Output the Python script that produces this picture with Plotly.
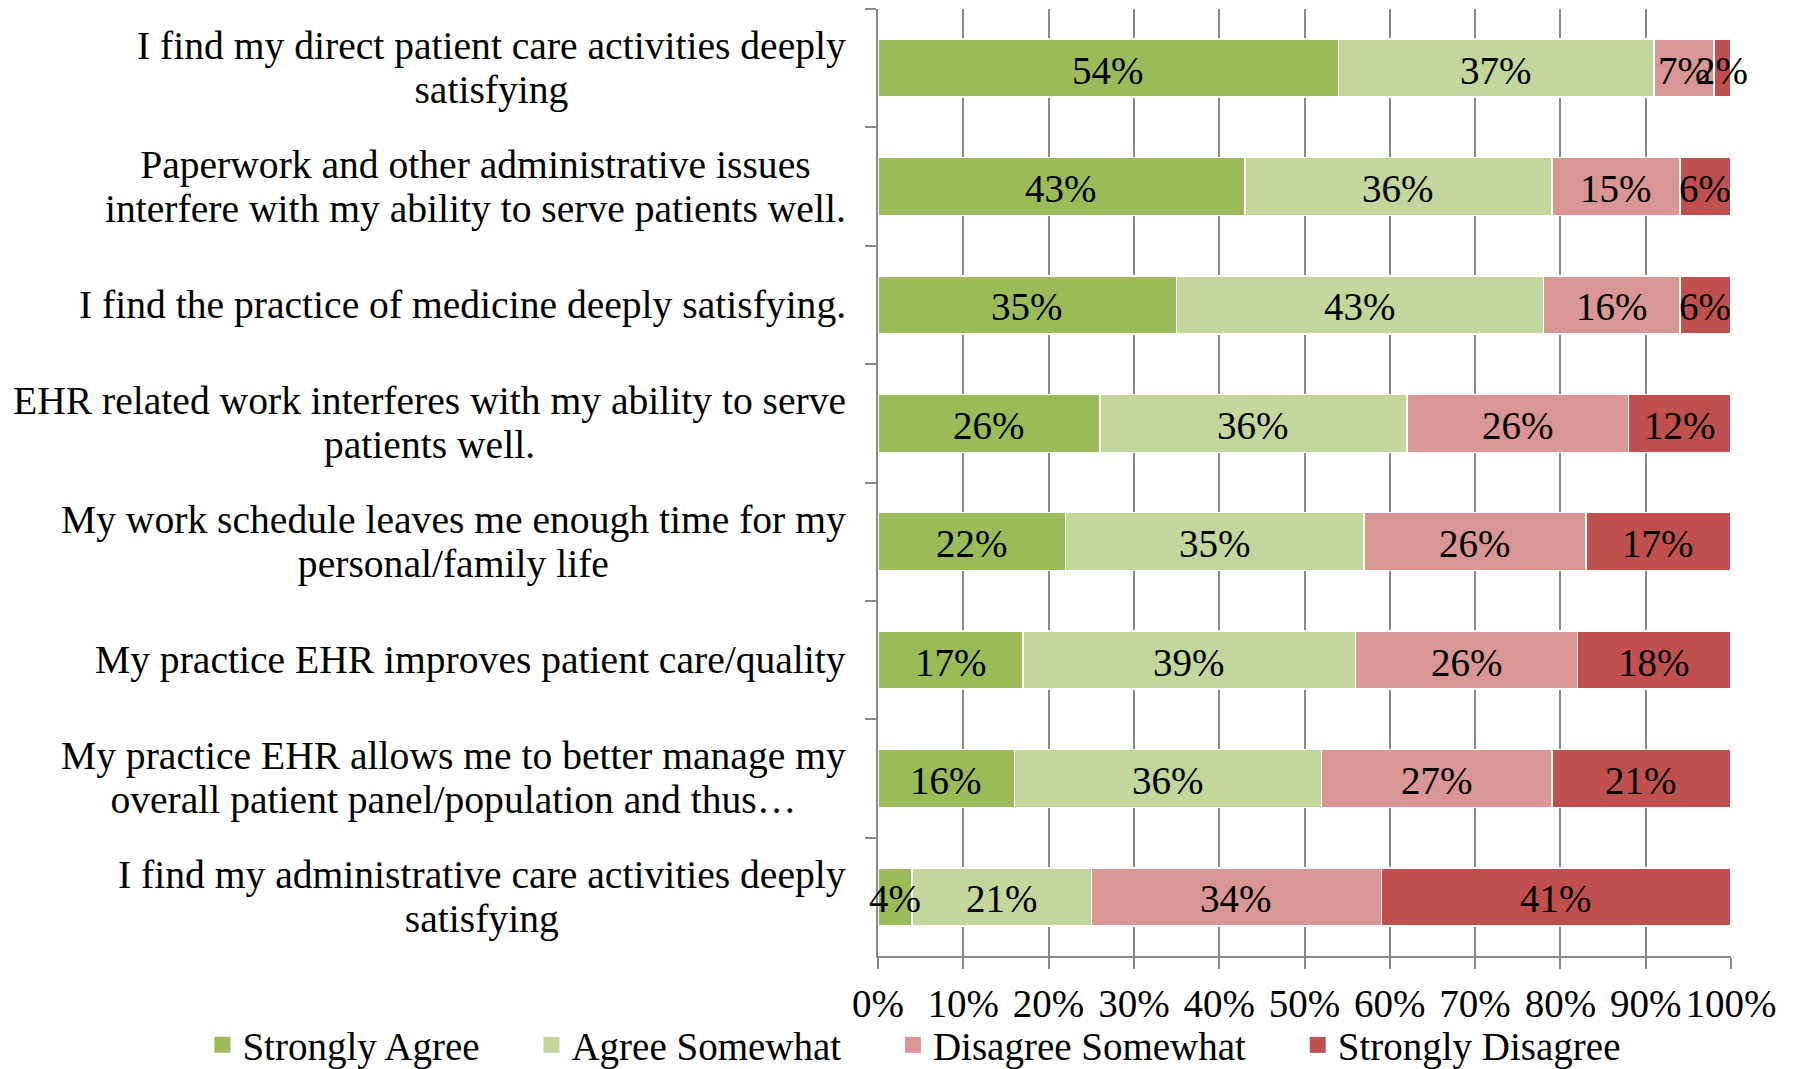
import plotly.graph_objects as go

statements = [
    ["I find my direct patient care activities deeply", "satisfying"],
    ["Paperwork and other administrative issues", "interfere with my ability to serve patients well."],
    ["I find the practice of medicine deeply satisfying."],
    ["EHR related work interferes with my ability to serve", "patients well."],
    ["My work schedule leaves me enough time for my", "personal/family life"],
    ["My practice EHR improves patient care/quality"],
    ["My practice EHR allows me to better manage my", "overall patient panel/population and thus…"],
    ["I find my administrative care activities deeply", "satisfying"],
]
categories = [" ".join(s) for s in statements]

strongly_agree = [54, 43, 35, 26, 22, 17, 16, 4]
agree_somewhat = [37, 36, 43, 36, 35, 39, 36, 21]
disagree_somewhat = [7, 15, 16, 26, 26, 26, 27, 34]
strongly_disagree = [2, 6, 6, 12, 17, 18, 21, 41]

series = [
    ("Strongly Agree", strongly_agree, "#9BBB59"),
    ("Agree Somewhat", agree_somewhat, "#C3D69B"),
    ("Disagree Somewhat", disagree_somewhat, "#D99694"),
    ("Strongly Disagree", strongly_disagree, "#C0504D"),
]

FONT = "Liberation Serif"
SIZE = 39
PAD = "\u00a0" * 4 + "\u2009"  # extra room between legend entries

fig = go.Figure()
for name, vals, color in series:
    fig.add_trace(go.Bar(
        y=categories, x=vals, name=name, orientation="h", showlegend=False,
        marker=dict(color=color, line=dict(color="white", width=1.5)),
    ))

# value labels on top of all bars, centred in each segment
base = [0] * len(categories)
for name, vals, color in series:
    for cat, b, v in zip(categories, base, vals):
        fig.add_annotation(
            x=b + v / 2, y=cat, xref="x", yref="y", text=f"{v}%",
            showarrow=False, yshift=-2,
            font=dict(family=FONT, size=SIZE, color="black"),
        )
    base = [b + v for b, v in zip(base, vals)]

# legend entries with larger square swatches
for name, vals, color in series:
    fig.add_trace(go.Scatter(
        x=[None], y=[None], mode="markers",
        name=name + (PAD if name != series[-1][0] else ""),
        marker=dict(symbol="square", size=16, color=color),
    ))

# category labels: centred lines, block right-aligned against the axis
for cat, lines in zip(categories, statements):
    txt = "<br>".join(f'<span style="font-size:39.6px">{l}</span>' for l in lines)
    fig.add_annotation(
        x=0, xref="paper", y=cat, yref="y", xanchor="right", xshift=-30,
        text=txt, align="center", showarrow=False,
        font=dict(family=FONT, size=43.5 / 1.3, color="black"),
    )

fig.update_layout(
    barmode="stack", bargap=0.51,
    width=1795, height=1069,
    margin=dict(l=870, r=72, t=1, b=121, autoexpand=False),
    plot_bgcolor="white", paper_bgcolor="white",
    font=dict(family=FONT, size=SIZE, color="black"),
    showlegend=True,
    legend=dict(orientation="h", x=-0.792, xanchor="left", y=-0.094, yanchor="middle",
                font=dict(family=FONT, size=SIZE), traceorder="normal",
                bgcolor="rgba(0,0,0,0)", itemsizing="trace"),
)
fig.update_xaxes(
    range=[0, 100], dtick=10, ticksuffix="%",
    showgrid=True, gridcolor="#888888", gridwidth=2,
    showline=True, linecolor="#888888", linewidth=2,
    ticks="outside", ticklen=11, tickcolor="#888888", tickwidth=2,
    ticklabelstandoff=1, zeroline=False,
)
fig.update_yaxes(
    autorange="reversed", showticklabels=False,
    showline=True, linecolor="#888888", linewidth=2,
    ticks="outside", tickson="boundaries", ticklen=11, tickcolor="#888888", tickwidth=2,
)

fig.write_html("out.html")
